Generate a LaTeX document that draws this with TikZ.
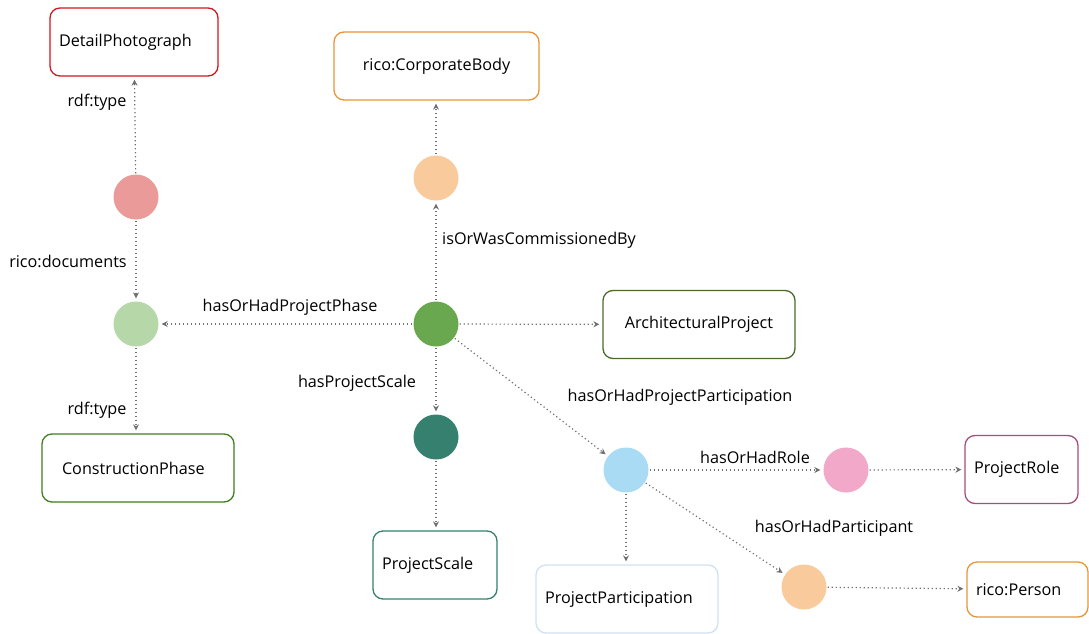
\documentclass[tikz,border=0pt]{standalone}
\usepackage{fontspec}
\setmainfont{Open Sans}
\usetikzlibrary{arrows.meta}
\definecolor{edgegray}{HTML}{707070}
\definecolor{cRed}{HTML}{D0161E}
\definecolor{cRedFill}{HTML}{EA9A98}
\definecolor{cOrange}{HTML}{E8953A}
\definecolor{cPeach}{HTML}{F9CB9C}
\definecolor{cGreen}{HTML}{6AA84F}
\definecolor{cLightGreen}{HTML}{B6D7A8}
\definecolor{cDarkGreen}{HTML}{4A6B2E}
\definecolor{cPhaseGreen}{HTML}{3E7F1F}
\definecolor{cTeal}{HTML}{35806F}
\definecolor{cLightBlue}{HTML}{A9DBF4}
\definecolor{cPaleBlue}{HTML}{CFE2F3}
\definecolor{cPink}{HTML}{F2A8C9}
\definecolor{cPlum}{HTML}{A64D79}
\tikzset{
  dot/.style={circle, minimum size=45pt, inner sep=0pt, fill=#1},
  classbox/.style={draw=#1, rounded corners=10pt, line width=1.3pt, fill=white,
    minimum height=68pt, inner xsep=9pt, align=left, font=\fontsize{16.2}{18}\selectfont},
  rel/.style={draw=edgegray, line width=1.2pt, dash pattern=on 1.2pt off 2.8pt,
    -{Stealth[length=6pt,width=6pt,inset=2pt]}, shorten >=3pt, shorten <=1pt},
  lbl/.style={font=\fontsize{16.2}{18}\selectfont, inner sep=0pt}
}
\begin{document}
\begin{tikzpicture}[x=1pt,y=-1pt]
\useasboundingbox (0,0) rectangle (1089,634);

% class boxes
\node[classbox=cRed, minimum width=168pt, text width=150pt] (detail) at (134,42) {DetailPhotograph};
\node[classbox=cOrange, minimum width=205pt, text width=187pt, align=center] (corp) at (436.5,66) {rico:CorporateBody};
\node[classbox=cDarkGreen, minimum width=192pt, text width=174pt, align=center] (arch) at (699,324.5) {ArchitecturalProject};
\node[classbox=cPhaseGreen, minimum width=192pt, text width=152pt, inner xsep=20pt] (phase) at (138,468) {ConstructionPhase};
\node[classbox=cTeal, minimum width=124pt, text width=106pt] (scale) at (435,565) {ProjectScale};
\node[classbox=cPaleBlue, minimum width=182pt, text width=164pt] (part) at (627,599) {ProjectParticipation};
\node[classbox=cPlum, minimum width=113pt, text width=95pt] (role) at (1021.5,469.5) {ProjectRole};
\node[classbox=cOrange, minimum width=121pt, minimum height=55pt, text width=103pt] (person) at (1027.5,589.5) {rico:Person};

% instance nodes
\node[dot=cRedFill] (photo) at (136,197) {};
\node[dot=cLightGreen] (phasei) at (136,324) {};
\node[dot=cPeach] (body) at (436,178) {};
\node[dot=cGreen] (project) at (436,324) {};
\node[dot=cTeal] (scalei) at (436,437) {};
\node[dot=cLightBlue] (parti) at (626,470) {};
\node[dot=cPink] (rolei) at (846,470) {};
\node[dot=cPeach] (personi) at (804,587) {};

% relations
\draw[rel] (photo) -- (detail);
\draw[rel] (photo) -- (phasei);
\draw[rel] (phasei) -- (phase.north -| phasei);
\draw[rel] (project) -- (phasei);
\draw[rel] (project) -- (body);
\draw[rel] (body) -- (corp.south -| body);
\draw[rel] (project) -- (arch);
\draw[rel] (project) -- (scalei);
\draw[rel] (scalei) -- (scale.north -| scalei);
\draw[rel] (project) -- (parti);
\draw[rel] (parti) -- (rolei);
\draw[rel] (rolei) -- (role);
\draw[rel] (parti) -- (part.north -| parti);
\draw[rel] (parti) -- (personi);
\draw[rel] (personi) -- (person);

% relation labels
\node[lbl] (l1) at (97,102) {rdf:type};
\node[lbl] (l2) at (68,261) {rico:documents};
\node[lbl] (l3) at (97,410) {rdf:type};
\node[lbl] (l4) at (290,307) {hasOrHadProjectPhase};
\node[lbl] (l5) at (539,240) {isOrWasCommissionedBy};
\node[lbl] (l6) at (357,383) {hasProjectScale};
\node[lbl] (l7) at (680,397) {hasOrHadProjectParticipation};
\node[lbl] (l8) at (755,457) {hasOrHadRole};
\node[lbl] (l9) at (834,528) {hasOrHadParticipant};
\end{tikzpicture}
\end{document}
